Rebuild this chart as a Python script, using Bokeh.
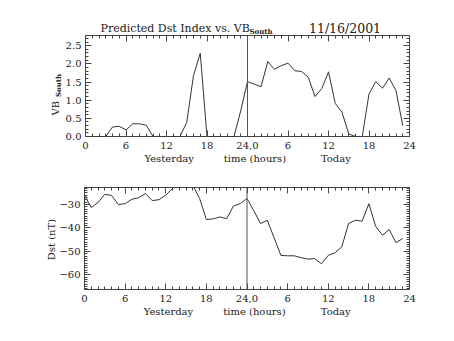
import numpy as np
from bokeh.plotting import figure
from bokeh.models import LinearAxis, FixedTicker, Span, Label, Range1d
from bokeh.layouts import column, row
from bokeh.embed import file_html
from bokeh.resources import INLINE

# ---------------- data ----------------
hours = list(range(48))
vb_south = [0, 0, 0, 0, 0.26, 0.28, 0.18, 0.35, 0.35, 0.31, 0, 0, 0, 0, 0, 0.39,
            1.68, 2.29, 0, 0, 0, 0, 0, 0.71,
            1.51, 1.44, 1.37, 2.06, 1.85, 1.95, 2.02, 1.81, 1.79, 1.63, 1.10, 1.32,
            1.78, 0.91, 0.67, 0.07, 0, 0, 1.17, 1.51, 1.33, 1.61, 1.26, 0.30]
dst = [-26.0, -31.3, -29.1, -25.6, -26.1, -30.0, -29.6, -27.7, -27.1, -25.3, -28.3, -27.9,
       -26.0, -23.1, -19.5, -19.0, -21.8, -27.4, -36.4, -36.1, -35.3, -36.0, -30.6, -29.6,
       -27.4, -32.6, -38.1, -36.7, -44.2, -51.7, -51.9, -51.9, -52.7, -53.3, -53.1, -55.3,
       -51.7, -50.6, -48.1, -38.1, -36.7, -37.1, -29.6, -39.3, -43.1, -40.7, -46.3, -44.5]

x_ticks = [0, 6, 12, 18, 24, 30, 36, 42, 48]
x_tick_labels = ["0", "6", "12", "18", "24,0", "6", "12", "18", "24"]
day_label_pos = [12.4, 25.1, 37.1]
day_labels = ["Yesterday", "time (hours)", "Today"]
vb_ticks = [0, 0.5, 1.0, 1.5, 2.0, 2.5]
vb_tick_labels = ["0.0", "0.5", "1.0", "1.5", "2.0", "2.5"]
dst_ticks = [-60, -50, -40, -30]
dst_tick_labels = ["\u221260", "\u221250", "\u221240", "\u221230"]
day_boundary = 24

title_main = "Predicted Dst Index vs. VB"
title_sub = "South"
title_date = "11/16/2001"
vb_label = "VB"
vb_label_sub = "South"
dst_label = "Dst (nT)"

FONT = "DejaVu Serif"
AX = "#444444"
TXT = "#222222"
LINE = "#333333"


def no_align(f):
    try:
        f.frame_align = False
    except Exception:
        pass
    return f


def style_axis(ax, labels=True):
    ax.axis_line_color = None
    ax.major_tick_in = 6
    ax.major_tick_out = 0
    ax.minor_tick_in = 3
    ax.minor_tick_out = 0
    ax.major_tick_line_color = AX
    ax.minor_tick_line_color = AX
    ax.major_label_text_font = FONT
    ax.major_label_text_font_size = "10px"
    ax.major_label_text_color = TXT
    if not labels:
        ax.major_label_text_font_size = "1px"
        ax.major_label_standoff = 0


def blank(width, height):
    f = figure(width=width, height=height, output_backend="svg", toolbar_location=None,
               x_range=Range1d(0, 1), y_range=Range1d(0, 1),
               x_axis_type=None, y_axis_type=None, min_border=0)
    f.grid.visible = False
    f.outline_line_color = None
    f.background_fill_color = "white"
    f.border_fill_color = "white"
    return no_align(f)


def make_plot(width, height, b_left, b_top, b_bottom, y_range, y_ticks, y_minor, y_labels, y_vals):
    p = figure(width=width, height=height, output_backend="svg", toolbar_location=None,
               x_range=Range1d(0, 48), y_range=Range1d(*y_range),
               x_axis_type=None, y_axis_type=None,
               min_border_left=b_left, min_border_right=width - b_left - 327,
               min_border_top=b_top, min_border_bottom=b_bottom)
    p.grid.visible = False
    p.outline_line_color = AX
    p.background_fill_color = "white"
    p.border_fill_color = "white"
    no_align(p)

    xt = FixedTicker(ticks=x_ticks, minor_ticks=list(np.arange(0, 49, 1)))
    yt = FixedTicker(ticks=y_ticks, minor_ticks=y_minor)

    xb = LinearAxis(ticker=xt, major_label_overrides=dict(zip(x_ticks, x_tick_labels)))
    style_axis(xb)
    xb.major_label_standoff = 5
    p.add_layout(xb, "below")

    xd = LinearAxis(ticker=FixedTicker(ticks=day_label_pos, minor_ticks=[]),
                    major_label_overrides=dict(zip(day_label_pos, day_labels)))
    style_axis(xd)
    xd.major_tick_line_color = None
    xd.minor_tick_line_color = None
    xd.major_label_standoff = 1
    p.add_layout(xd, "below")

    xtop = LinearAxis(ticker=xt, major_label_overrides={t: "" for t in x_ticks})
    style_axis(xtop, labels=False)
    p.add_layout(xtop, "above")

    yl = LinearAxis(ticker=yt, major_label_overrides=dict(zip(y_ticks, y_labels)))
    style_axis(yl)
    yl.major_label_standoff = 4
    p.add_layout(yl, "left")

    yr = LinearAxis(ticker=yt, major_label_overrides={t: "" for t in y_ticks})
    style_axis(yr, labels=False)
    p.add_layout(yr, "right")

    p.line(hours, y_vals, line_color=LINE, line_width=1)
    p.add_layout(Span(location=day_boundary, dimension="height", line_color="#555555", line_width=1))
    return p


# header with the title
header = blank(454, 35)
header.add_layout(Label(x=100, y=7.2, x_units="screen", y_units="screen", text=title_main,
                        text_font=FONT, text_font_size="11px", text_color=TXT,
                        text_baseline="alphabetic", text_align="left"))
header.add_layout(Label(x=249, y=4.5, x_units="screen", y_units="screen", text=title_sub,
                        text_font=FONT, text_font_size="7px", text_color=TXT, text_font_style="bold",
                        text_baseline="alphabetic", text_align="left"))
header.add_layout(Label(x=308.5, y=7.2, x_units="screen", y_units="screen", text=title_date,
                        text_font=FONT, text_font_size="12.5px", text_color=TXT,
                        text_baseline="alphabetic", text_align="left"))

# top panel
p1 = make_plot(392, 133, 20, 0, 32, (0, 2.78), vb_ticks,
               [round(v, 1) for v in np.arange(0, 2.8, 0.1)], vb_tick_labels, vb_south)
side1 = blank(62, 133)
side1.add_layout(Label(x=55, y=53, x_units="screen", y_units="screen", text=vb_label,
                       angle=np.pi / 2, text_font=FONT, text_font_size="10px", text_color=TXT,
                       text_baseline="alphabetic", text_align="left"))
side1.add_layout(Label(x=57.5, y=71.5, x_units="screen", y_units="screen", text=vb_label_sub,
                       angle=np.pi / 2, text_font=FONT, text_font_size="7px", text_color=TXT,
                       text_font_style="bold", text_baseline="alphabetic", text_align="left"))

# bottom panel
p2 = make_plot(398, 173, 26, 19, 52, (-66.3, -22.7), dst_ticks, list(range(-66, -22)),
               dst_tick_labels, dst)
side2 = blank(56, 173)
side2.add_layout(Label(x=51, y=102, x_units="screen", y_units="screen", text=dst_label,
                       angle=np.pi / 2, text_font=FONT, text_font_size="10px", text_color=TXT,
                       text_baseline="alphabetic", text_align="center"))

layout = column(header, row(side1, p1, spacing=0), row(side2, p2, spacing=0), spacing=0)
open("out.html", "w").write(file_html(layout, INLINE))
